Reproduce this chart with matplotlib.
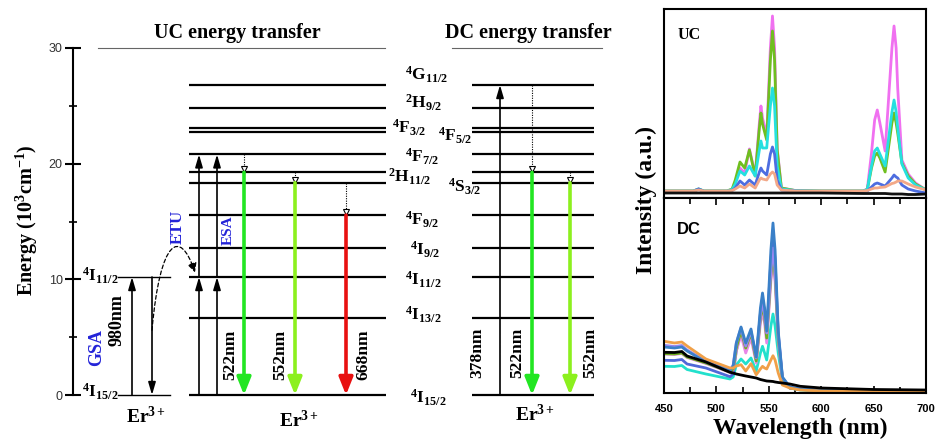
import matplotlib
matplotlib.use("Agg")
import matplotlib.pyplot as plt
from matplotlib.path import Path
from matplotlib.patches import FancyArrowPatch

plt.rcParams['font.family'] = 'Liberation Serif'
plt.rcParams['font.weight'] = 'bold'
plt.rcParams['mathtext.fontset'] = 'custom'
plt.rcParams['mathtext.rm'] = 'Liberation Serif:bold'
plt.rcParams['mathtext.it'] = 'Liberation Serif:italic:bold'
plt.rcParams['mathtext.bf'] = 'Liberation Serif:bold'

# Er3+ energy levels (10^3 cm^-1)
level_names = ["$^4$I$_{15/2}$", "$^4$I$_{13/2}$", "$^4$I$_{11/2}$", "$^4$I$_{9/2}$",
               "$^4$F$_{9/2}$", "$^4$S$_{3/2}$", "$^2$H$_{11/2}$", "$^4$F$_{7/2}$",
               "$^4$F$_{5/2}$", "$^4$F$_{3/2}$", "$^2$H$_{9/2}$", "$^4$G$_{11/2}$"]
level_E = [0, 6.7, 10.2, 12.75, 15.55, 18.35, 19.25, 20.8, 22.7, 23.05, 24.8, 26.8]
energy_ticks = [0, 10, 20, 30]

# emission / excitation wavelengths
uc_lines = ["522nm", "552nm", "668nm"]
dc_lines = ["378nm", "522nm", "552nm"]
pump = "980nm"

# spectra, UC panel
uc_wl = [450, 470, 478, 483, 488, 510, 515, 518, 522.5, 527,
         531.5, 537, 541, 542.5, 544, 548, 551.5, 553.5, 555.5, 558,
         562, 575, 600, 640, 644, 648, 651, 653.5, 656, 661,
         667.5, 669.5, 671.5, 673, 677, 683, 690, 700]
uc_magenta = [7, 7, 7, 9, 7, 7, 8, 16, 30, 25,
              49, 23, 75, 92, 80, 62, 150, 182, 150, 50,
              10, 7.5, 7, 7, 9, 45, 78, 88, 75, 47,
              150, 172, 150, 110, 38, 24, 15, 8]
uc_green = [7, 7, 7, 9, 7, 7, 9, 18, 36, 30,
            48, 22, 70, 85, 74, 58, 138, 167, 138, 48,
            10, 7.5, 7, 7, 8.5, 30, 42, 45, 40, 26,
            75, 85, 75, 65, 35, 22, 14, 8]
uc_cyan = [7, 7, 7, 9, 7, 7, 8.5, 14, 27, 23,
           32, 22, 48, 57, 50, 50, 92, 110, 92, 32,
           9, 7.5, 7, 7, 8.5, 32, 47, 50, 44, 32,
           86, 98, 86, 70, 34, 20, 13, 8]
uc_blue = [6.5, 6.5, 6.5, 9, 6.5, 6.5, 7.5, 10, 17, 13,
           18, 13, 26, 30, 27, 23, 44, 51, 44, 18,
           8, 7, 6.5, 6.5, 7, 11, 14, 15, 14, 12,
           20, 23, 21, 20, 13, 9, 7, 5]
uc_salmon = [7, 7, 7, 8, 7, 7, 7.5, 9, 12, 10,
             14, 10, 18, 20, 19, 18, 24, 26, 24, 13,
             8, 7, 7, 7, 7.5, 9, 10, 10, 10.5, 11,
             14.5, 15, 16, 17, 17, 14, 11, 8]
uc_black = [5, 5, 5, 5, 5, 5, 5, 5, 5, 5,
            5, 5, 5, 5, 5, 5, 5, 5, 5, 5,
            5, 5, 5, 4.5, 4.5, 4.5, 4.5, 4.5, 4.5, 4.5,
            4, 4, 4, 4, 4, 3.5, 3.5, 4]

# spectra, DC panel
dc_wl = [450, 460, 467, 472, 490, 513, 516, 519, 523.5, 528,
         533, 538, 542, 544, 546, 548, 552, 554, 556, 559,
         563, 570, 580, 600, 650, 700]
dc_black = [40.7, 40.5, 41.5, 37, 31, 20.7, 20, 19, 18, 17,
            16, 15, 13.5, 13, 12.5, 12, 11.7, 11.5, 11, 10.5,
            10, 9, 6.7, 5, 3.5, 3]
dc_orange = [51.7, 50, 51, 47, 34, 25, 25, 27, 28.3, 22,
             29.3, 18.3, 24, 26.7, 25, 24, 33, 37.3, 33, 20,
             8, 5, 3, 2, 1.5, 1.5]
dc_lavender = [47.7, 46.5, 47.5, 43, 32, 23, 28, 50, 65, 47,
               62, 35, 78, 92, 78, 60, 122, 145, 122, 60,
               15, 6, 4, 3, 2, 2]
dc_green = [39.3, 39, 40, 36, 30, 21, 24, 45, 62, 45,
            60, 32, 75, 88, 75, 55, 118, 140, 118, 55,
            14, 5, 3.5, 2.5, 2, 2]
dc_royal = [32.7, 32.5, 33.5, 29, 25, 16.3, 19, 42, 63, 46,
            61, 33, 80, 94, 80, 58, 133, 158, 133, 58,
            15, 5, 3.5, 2.5, 2, 2]
dc_cyan = [26.7, 26.5, 27.5, 23.5, 19, 14, 16, 28, 34, 29,
           35, 22, 40, 46.7, 40, 33, 67, 79, 67, 40,
           12, 5, 3, 2, 1.5, 1.5]
dc_magenta = [39, 38.5, 39.5, 35.5, 29.5, 20.5, 23, 42, 58, 40,
              55, 30, 70, 82, 70, 50, 112, 132, 112, 52,
              13, 5, 3.5, 2.5, 2, 2]
dc_steel = [46, 45, 46, 42, 31, 22, 27, 50, 66, 50,
            64, 36, 85, 100, 85, 62, 143, 170, 143, 62,
            16, 6, 4, 3, 2, 2]

W, H = 935, 441
fig = plt.figure(figsize=(W / 100, H / 100), dpi=100)


def rect(l, t, r, b):
    return [l / W, 1 - b / H, (r - l) / W, (b - t) / H]


Y0, Y30 = 395, 48          # pixel rows of 0 and 30 on the energy axis
k = (Y0 - Y30) / 30.0


def epx(y):
    return (Y0 - y) / k


# ---------------- energy level diagram ----------------
ax = fig.add_axes([0, 0, 630 / W, 1])
ax.set_xlim(0, 630)
ax.set_ylim(epx(H), epx(0))
ax.axis('off')

eax = fig.add_axes(rect(73, Y30, 74, Y0))
eax.set_ylim(0, 30)
eax.patch.set_visible(False)
for s in ['top', 'right', 'bottom']:
    eax.spines[s].set_visible(False)
eax.spines['left'].set_linewidth(1.5)
eax.set_xticks([])
eax.set_yticks(energy_ticks)
eax.set_yticks([5, 15, 25], minor=True)
eax.tick_params(axis='y', which='major', direction='inout', length=11, width=1.5, pad=2,
                labelsize=9, labelcolor='#333333')
eax.tick_params(axis='y', which='minor', direction='inout', length=6, width=1.2)
for t in eax.get_yticklabels():
    t.set_fontfamily('Liberation Sans')
    t.set_fontweight('normal')

ax.text(27, epx(220), "Energy (10$^3$cm$^{-1}$)", rotation=90, ha='center', va='center',
        fontsize=14.5)

# titles and top reference lines
ax.text(237, epx(33), "UC energy transfer", ha='center', va='center', fontsize=14.5)
ax.text(528, epx(33), "DC energy transfer", ha='center', va='center', fontsize=14.5)
ax.plot([98, 385], [30, 30], color='#666666', lw=0.8)
ax.plot([452, 602], [30, 30], color='#666666', lw=0.8)

# level lines
for E in level_E:
    ax.plot([189, 386], [E, E], color='k', lw=1.6, solid_capstyle='butt')
    ax.plot([472, 594], [E, E], color='k', lw=1.6, solid_capstyle='butt')
for E in (level_E[0], level_E[2]):
    ax.plot([118, 170], [E, E], color='k', lw=1.0)

# level labels between the two diagrams
label_pos = [(410, 398), (405, 315), (405, 280), (410, 250), (405, 220), (448, 187),
             (388, 177), (405, 157), (438, 136), (392, 128), (405, 103), (405, 75)]
for name, (x, y) in zip(level_names, label_pos):
    ax.text(x, epx(y), name, ha='left', va='center', fontsize=12.5)
ax.text(82, epx(276), level_names[2], ha='left', va='center', fontsize=12.5)
ax.text(82, epx(392), level_names[0], ha='left', va='center', fontsize=12.5)


def arrow(x, ya, yb, color='k', lw=1.2, hl=0.75, hw=0.22, ms=10):
    ax.annotate('', xy=(x, yb), xytext=(x, ya),
                arrowprops=dict(arrowstyle=f'-|>,head_length={hl},head_width={hw}',
                                color=color, lw=lw, shrinkA=0, shrinkB=0,
                                mutation_scale=ms))


def dotted(x, ya, yb):
    ax.plot([x, x], [ya, yb], color='k', lw=0.8, ls=(0, (1, 1.2)))
    ax.plot([x], [yb + 0.25], marker='v', ms=4.5, mfc='white', mec='k', mew=0.8)


def emission(x, ya, color):
    arrow(x, ya, level_E[0], color=color, lw=2.6, hl=0.75, hw=0.3, ms=14)


green, yellowgreen, red = '#22e622', '#8cf01e', '#e81010'

# GSA
arrow(132, level_E[0], level_E[2])
arrow(152, level_E[2], level_E[0])
ax.text(97, epx(347), "GSA", rotation=90, ha='center', va='center', color='#2323d8',
        fontsize=13)
ax.text(117, epx(320), pump, rotation=90, ha='center', va='center', fontsize=13)
ax.text(146, epx(417), "Er$^{3+}$", ha='center', va='center', fontsize=14)

# ETU dashed curve
curve = Path([(152, 5.6), (160, 13.5), (180, 14.5), (195, 10.6)],
             [Path.MOVETO, Path.CURVE4, Path.CURVE4, Path.CURVE4])
ax.add_patch(FancyArrowPatch(path=curve, arrowstyle='-|>,head_length=0.5,head_width=0.25',
                             mutation_scale=11, color='k', lw=0.9, ls=(0, (3, 2))))
ax.text(178, epx(227), "ETU", rotation=90, ha='center', va='center', color='#2323d8',
        fontsize=12)
ax.text(228, epx(230), "ESA", rotation=90, ha='center', va='center', color='#2323d8',
        fontsize=11)

# UC pumping arrows
for x in (199, 217):
    arrow(x, level_E[0], level_E[2])
    arrow(x, level_E[2], level_E[7])

# UC emissions
dotted(244, level_E[7], level_E[6])
dotted(295, level_E[6], level_E[5])
dotted(346, level_E[5], level_E[4])
emission(244, level_E[6], green)
emission(295, level_E[5], yellowgreen)
emission(346, level_E[4], red)
for txt, x in zip(uc_lines, (230, 280, 363)):
    ax.text(x, epx(355), txt, rotation=90, ha='center', va='center', fontsize=12.5)
ax.text(299, epx(420), "Er$^{3+}$", ha='center', va='center', fontsize=14)

# DC
arrow(500, level_E[0], level_E[11])
dotted(532, level_E[11], level_E[6])
dotted(570, level_E[6], level_E[5])
emission(532, level_E[6], green)
emission(570, level_E[5], yellowgreen)
for txt, x in zip(dc_lines, (477, 517, 590)):
    ax.text(x, epx(353), txt, rotation=90, ha='center', va='center', fontsize=12.5)
ax.text(535, epx(415), "Er$^{3+}$", ha='center', va='center', fontsize=14)

# ---------------- spectra ----------------
uc = fig.add_axes(rect(664, 9, 926, 198))
dc = fig.add_axes(rect(664, 198, 926, 393))
for a in (uc, dc):
    a.set_xlim(450, 700)
    a.set_yticks([])
    for s in a.spines.values():
        s.set_linewidth(1.5)
uc.set_ylim(0, 189)
uc.set_xticks([])
dc.set_ylim(0, 195)

uc_series = [(uc_magenta, '#f070f0'), (uc_green, '#6fbf1f'), (uc_cyan, '#25e0e0'),
             (uc_blue, '#4d6de0'), (uc_salmon, '#f2a888'), (uc_black, '#111111')]
for vals, c in uc_series:
    uc.plot(uc_wl, vals, color=c, lw=2.0, solid_joinstyle='round')

dc_series = [(dc_cyan, '#22e0cc'), (dc_royal, '#5068d8'), (dc_magenta, '#e888e8'),
             (dc_green, '#70b020'), (dc_lavender, '#9a88f0'), (dc_steel, '#3a80c8'),
             (dc_orange, '#f0a048'), (dc_black, '#000000')]
for vals, c in dc_series:
    dc.plot(dc_wl, vals, color=c, lw=2.0, solid_joinstyle='round')

dc.set_xticks(range(450, 701, 50))
dc.set_xticks(range(475, 700, 50), minor=True)
dc.tick_params(axis='x', which='both', direction='in', top=True, width=1.2)
dc.tick_params(axis='x', which='major', length=5, labelsize=8, pad=8)
dc.tick_params(axis='x', which='minor', length=4)
for t in dc.get_xticklabels():
    t.set_fontfamily('Liberation Sans')
    t.set_fontweight('bold')

uc.text(0.05, 0.86, "UC", transform=uc.transAxes, ha='left', va='center', fontsize=11.5)
dc.text(0.05, 0.84, "DC", transform=dc.transAxes, ha='left', va='center', fontsize=12,
        fontfamily='Liberation Sans')

fig.text(646 / W, 1 - 200 / H, "Intensity (a.u.)", rotation=90, ha='center', va='center',
         fontsize=17)
fig.text(800 / W, 1 - 428 / H, "Wavelength (nm)", ha='center', va='center', fontsize=17)

fig.savefig("out.png", dpi=100)
